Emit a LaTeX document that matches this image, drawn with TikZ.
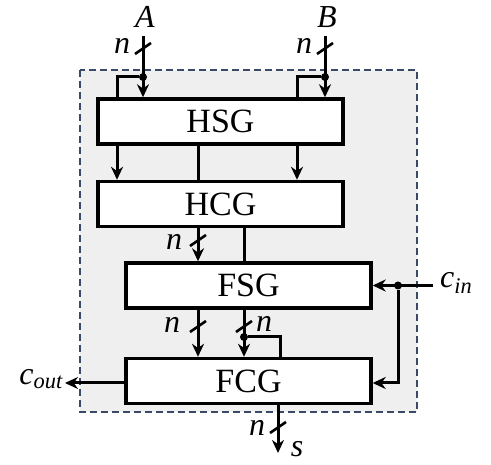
\documentclass[tikz,border=0pt]{standalone}
\usepackage{fontspec}
\setmainfont{Liberation Serif}
\usetikzlibrary{arrows.meta}
\definecolor{frameblue}{HTML}{3A4A66}
\definecolor{bggray}{HTML}{EFEFEF}
\tikzset{
  blk/.style={draw, line width=3.4pt, fill=white, minimum width=245pt, minimum height=45pt, inner sep=0pt, font=\fontsize{34}{34}\selectfont},
  wire/.style={line width=3pt},
  arr/.style={wire, -{Stealth[length=13pt,width=12pt]}},
  lbl/.style={font=\fontsize{32}{32}\selectfont\itshape, inner sep=0pt},
  dot/.style={circle, fill=black, inner sep=0pt, minimum size=8pt},
  tick/.style={line width=2.6pt}
}
\begin{document}
\begin{tikzpicture}[x=1pt,y=-1pt]
\useasboundingbox (0,0) rectangle (491,465);
\draw[frameblue, dashed, dash pattern=on 7pt off 4pt, line width=2.2pt, fill=bggray] (80,70) rectangle (417,412);
% blocks
\node[blk] (hsg) at (220.5,121.5) {HSG};
\node[blk] (hcg) at (220.5,204) {HCG};
\node[blk] (fsg) at (248.5,285.5) {FSG};
\node[blk] (fcg) at (248.5,381) {FCG};
% inputs A, B
\coordinate (ta) at (143,36);
\coordinate (tb) at (325,36);
\node[lbl] (la) at (145,17) {A};
\node[lbl] (lb) at (327,17) {B};
\node[lbl] (na) at (122,46) {n};
\node[lbl] (nb) at (304,46) {n};
\node[dot] (da) at (143,77) {};
\node[dot] (db) at (325,77) {};
\draw[arr] (ta) -- (hsg.north -| ta);
\draw[arr] (tb) -- (hsg.north -| tb);
\draw[tick] (135,54) -- (151,43);
\draw[tick] (317,54) -- (333,43);
\coordinate (ba) at (117,77);
\coordinate (bb) at (297,77);
\draw[wire] (da) -- (ba) -- (hsg.north -| ba);
\draw[wire] (db) -- (bb) -- (hsg.north -| bb);
% HSG -> HCG
\draw[arr] (hsg.south -| ba) -- (hcg.north -| ba);
\draw[arr] (hsg.south -| bb) -- (hcg.north -| bb);
\coordinate (m1) at (198,160);
\draw[wire] (hsg.south -| m1) -- (hcg.north -| m1);
% HCG -> FSG
\draw[arr] (hcg.south -| m1) -- (fsg.north -| m1);
\draw[tick] (190,246) -- (206,235);
\node[lbl] (n3) at (174,242) {n};
\coordinate (m2) at (244,240);
\draw[wire] (hcg.south -| m2) -- (fsg.north -| m2);
% FSG -> FCG
\draw[arr] (fsg.south -| m1) -- (fcg.north -| m1);
\draw[tick] (190,332) -- (206,321);
\node[lbl] (n4) at (172,325) {n};
\draw[arr] (fsg.south -| m2) -- (fcg.north -| m2);
\draw[tick] (236,332) -- (252,321);
\node[lbl] (n5) at (264,324) {n};
\node[dot] (d5) at (244,337) {};
\coordinate (b5) at (280,337);
\draw[wire] (d5) -- (b5) -- (fcg.north -| b5);
% c_in
\coordinate (cin) at (433,285.5);
\node[lbl, anchor=west] (lcin) at (440,283) {c\textsubscript{in}};
\node[dot] (dc) at (398,285.5) {};
\draw[arr] (cin) -- (fsg.east);
\coordinate (cc) at (398,383);
\draw[arr] (dc) -- (cc) -- (fcg.east |- cc);
% c_out
\coordinate (cout) at (65,383);
\draw[arr] (fcg.west |- cout) -- (cout);
\node[lbl, anchor=east] (lcout) at (63,379) {c\textsubscript{out}};
% s
\coordinate (so) at (278,453);
\draw[arr] (fcg.south -| so) -- (so);
\draw[tick] (270,433) -- (286,422);
\node[lbl] (n6) at (257,428) {n};
\node[lbl] (ls) at (297,449) {s};
\end{tikzpicture}
\end{document}
